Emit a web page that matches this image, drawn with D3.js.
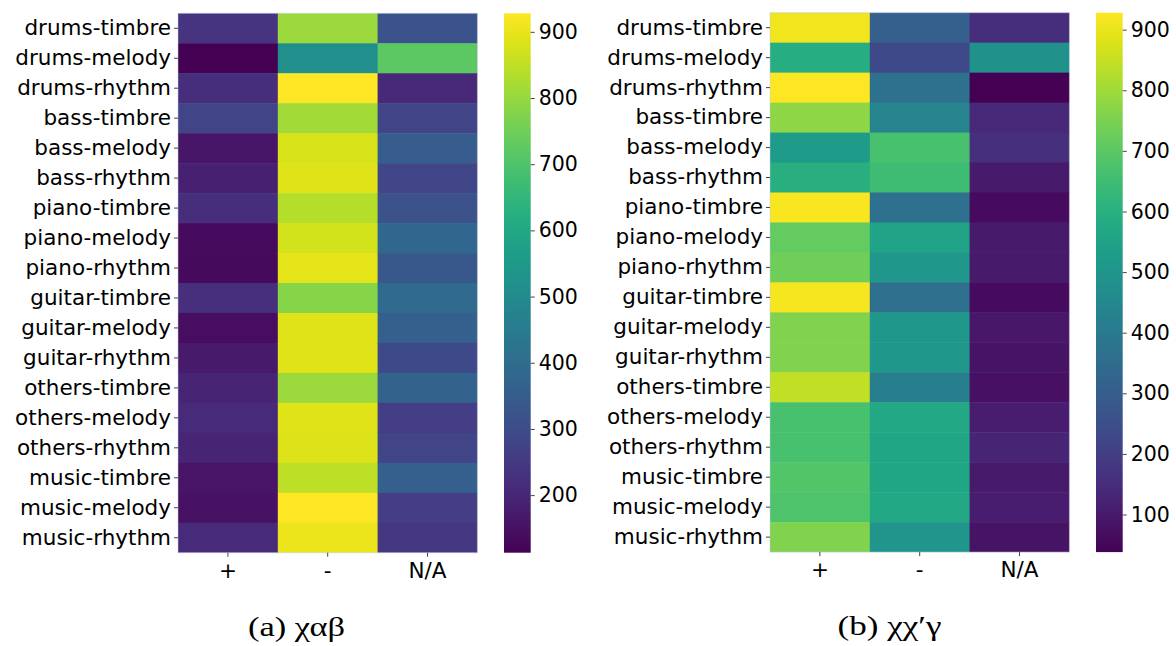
<!DOCTYPE html>
<html>
<head>
<meta charset="utf-8">
<script src="https://cdn.jsdelivr.net/npm/d3@7"></script>
<style>
  body { margin: 0; background: #fff; }
  svg text { font-family: "DejaVu Sans", sans-serif; fill: #000; }
  .caption { font-family: "Liberation Serif", "DejaVu Serif", serif; }
</style>
</head>
<body>
<div id="vis-container"></div>
<script>
// rows and columns shared by both heatmaps
let rows = ["drums-timbre","drums-melody","drums-rhythm","bass-timbre","bass-melody","bass-rhythm",
  "piano-timbre","piano-melody","piano-rhythm","guitar-timbre","guitar-melody","guitar-rhythm",
  "others-timbre","others-melody","others-rhythm","music-timbre","music-melody","music-rhythm"];
let cols = ["+", "-", "N/A"];

// (a) values, one array per column
let aPlus = [235,113,220,276,160,186,220,137,135,222,140,170,195,210,195,155,150,210];
let aMinus = [806,520,928,814,880,887,838,873,896,781,887,887,806,887,885,847,925,905];
let aNA = [317,724,203,276,349,284,317,382,333,390,357,292,366,260,276,357,260,243];
let aDomain = [113, 928];
let aTicks = [200,300,400,500,600,700,800,900];

// (b) values
let bPlus = [910,590,928,777,528,599,919,714,732,915,759,759,843,670,670,688,679,759];
let bMinus = [305,234,367,438,670,652,367,554,510,358,510,510,420,572,563,563,572,501];
let bNA = [154,483,38,136,163,100,65,100,100,65,91,82,74,109,127,100,109,82];
let bDomain = [38, 928];
let bTicks = [100,200,300,400,500,600,700,800,900];

let svg = d3.select("#vis-container")
  .append("svg")
  .attr("width", 1176)
  .attr("height", 646);

let defs = svg.append("defs");

function heatmap(opts){
  let g = svg.append("g")
    .attr("transform", `translate(${opts.left}, ${opts.top})`);

  let x = d3.scaleBand().domain(cols).range([0, opts.width]);
  let y = d3.scaleBand().domain(rows).range([0, opts.height]);
  let color = d3.scaleSequential(d3.interpolateViridis).domain(opts.domain);

  let cells = [];
  opts.values.forEach((arr, ci)=>{
    arr.forEach((v, ri)=>{
      cells.push({row: rows[ri], col: cols[ci], value: v});
    });
  });

  g.selectAll("rect.cell")
    .data(cells)
    .enter()
    .append("rect")
    .attr("class", "cell")
    .attr("x", d=>x(d.col))
    .attr("y", d=>y(d.row))
    .attr("width", d=>x.bandwidth() + (d.col === "N/A" ? 0 : 0.5))
    .attr("height", d=>y.bandwidth() + (d.row === "music-rhythm" ? 0 : 0.5))
    .attr("fill", d=>color(d.value));

  // faint frame seen on the edges
  g.append("rect")
    .attr("width", opts.width)
    .attr("height", opts.height)
    .attr("fill", "none")
    .attr("stroke", "#c4c8e8")
    .attr("stroke-opacity", 0.5)
    .attr("stroke-width", 1);

  //left axis
  let leftAxis = g.append("g")
    .call(d3.axisLeft(y).tickSize(4).tickPadding(3));
  leftAxis.select(".domain").remove();
  leftAxis.selectAll("text").attr("font-size", "21.5px").attr("font-family", "DejaVu Sans");
  leftAxis.selectAll("line").attr("stroke", "#444");

  //bottom axis
  let bottomAxis = g.append("g")
    .attr("transform", `translate(0, ${opts.height})`)
    .call(d3.axisBottom(x).tickSize(4).tickPadding(6));
  bottomAxis.select(".domain").remove();
  bottomAxis.selectAll("text").attr("font-size", "21.5px").attr("font-family", "DejaVu Sans");
  bottomAxis.selectAll("line").attr("stroke", "#444");

  //colorbar
  let id = "grad" + opts.key;
  let grad = defs.append("linearGradient")
    .attr("id", id)
    .attr("x1", "0").attr("y1", "1").attr("x2", "0").attr("y2", "0");
  d3.range(0, 1.0001, 0.05).forEach(t=>{
    grad.append("stop")
      .attr("offset", t)
      .attr("stop-color", d3.interpolateViridis(t));
  });

  let cb = svg.append("g")
    .attr("transform", `translate(${opts.cbLeft}, ${opts.top})`);
  cb.append("rect")
    .attr("width", opts.cbWidth)
    .attr("height", opts.height)
    .attr("fill", `url(#${id})`);

  let cbScale = d3.scaleLinear().domain(opts.domain).range([opts.height, 0]);
  let cbAxis = cb.append("g")
    .attr("transform", `translate(${opts.cbWidth}, 0)`)
    .call(d3.axisRight(cbScale).tickValues(opts.ticks).tickSize(4).tickPadding(4));
  cbAxis.select(".domain").remove();
  cbAxis.selectAll("text").attr("font-size", "20.5px").attr("font-family", "DejaVu Sans");
  cbAxis.selectAll("line").attr("stroke", "#444");

  //caption
  svg.append("text")
    .attr("class", "caption")
    .attr("x", opts.capX)
    .attr("y", opts.capY)
    .attr("text-anchor", "middle")
    .attr("font-size", "28px")
    .attr("textLength", opts.capW)
    .attr("lengthAdjust", "spacingAndGlyphs")
    .text(opts.caption);
}

heatmap({key: "a", left: 178, top: 13.3, width: 299.4, height: 539.4,
  values: [aPlus, aMinus, aNA], domain: aDomain, ticks: aTicks,
  cbLeft: 504, cbWidth: 26.7, caption: "(a) χαβ", capX: 296.5, capY: 636, capW: 97});

heatmap({key: "b", left: 770, top: 12.7, width: 299.4, height: 539.4,
  values: [bPlus, bMinus, bNA], domain: bDomain, ticks: bTicks,
  cbLeft: 1096, cbWidth: 26.7, caption: "(b) χχ′γ", capX: 889.5, capY: 635, capW: 104});
</script>
</body>
</html>
